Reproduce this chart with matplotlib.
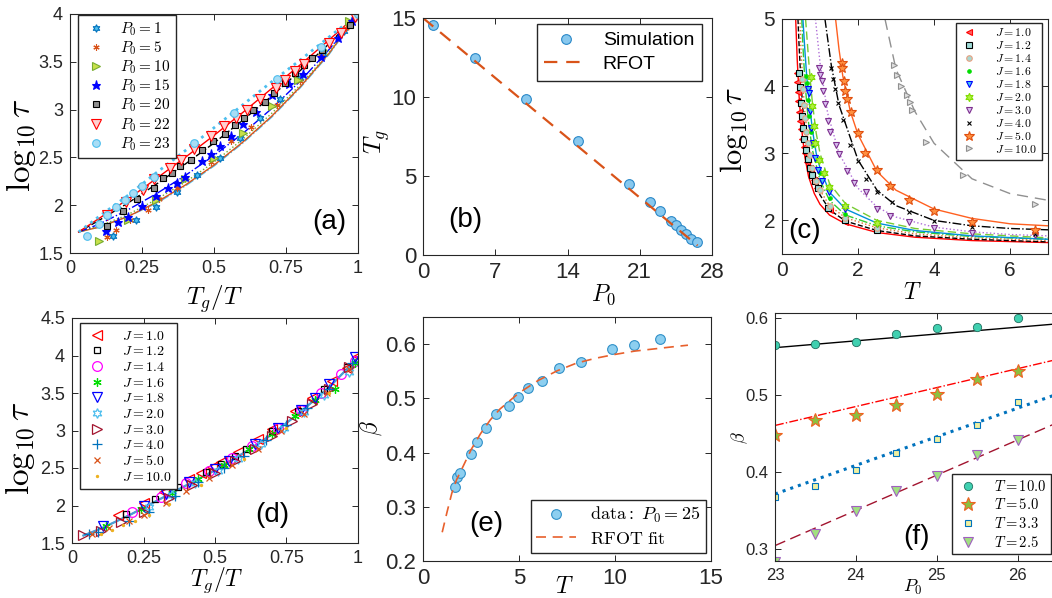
import matplotlib.pyplot as plt
import numpy as np

plt.rcParams['font.family'] = ['Liberation Sans', 'DejaVu Sans']
plt.rcParams['mathtext.fontset'] = 'cm'
plt.rcParams['axes.linewidth'] = 0.8
plt.rcParams['axes.edgecolor'] = '#262626'
plt.rcParams['xtick.color'] = '#262626'
plt.rcParams['ytick.color'] = '#262626'
plt.rcParams['legend.fancybox'] = False
plt.rcParams['legend.edgecolor'] = '#262626'
plt.rcParams['legend.framealpha'] = 1.0

# ---------------- (a) log10 tau vs Tg/T for several P0 ----------------
a_labels = ['$P_0 = 1$', '$P_0 = 5$', '$P_0 = 10$', '$P_0 = 15$',
            '$P_0 = 20$', '$P_0 = 22$', '$P_0 = 23$']
a_p1_x = [0.15, 0.23, 0.3, 0.37, 0.44, 0.52, 0.59, 0.66, 0.73, 0.8, 0.88, 0.95, 1.0]
a_p1_y = [1.68, 1.84, 1.98, 2.14, 2.32, 2.49, 2.7, 2.91, 3.11, 3.33, 3.58, 3.82, 3.97]
a_p5_x = [0.13, 0.16, 0.21, 0.27, 0.31, 0.37, 0.49, 0.56, 0.63, 0.72, 0.8, 0.87, 0.96]
a_p5_y = [1.67, 1.74, 1.84, 1.95, 2.06, 2.18, 2.45, 2.67, 2.82, 3.05, 3.3, 3.56, 3.85]
a_p10_x = [0.1, 0.2, 0.3, 0.4, 0.5, 0.6, 0.7, 0.79, 0.88, 0.97]
a_p10_y = [1.63, 1.84, 2.05, 2.27, 2.49, 2.76, 3.04, 3.31, 3.62, 3.93]
a_p15_x = [0.125, 0.165, 0.2, 0.25, 0.3, 0.34, 0.37, 0.4, 0.46, 0.49, 0.52, 0.56,
           0.6, 0.645, 0.7, 0.76, 0.81, 0.87, 0.93, 0.98]
a_p15_y = [1.73, 1.82, 1.88, 1.99, 2.1, 2.18, 2.23, 2.3, 2.46, 2.54, 2.62, 2.72,
           2.85, 2.98, 3.15, 3.27, 3.37, 3.55, 3.75, 3.93]
a_p20_x = [0.127, 0.185, 0.234, 0.29, 0.324, 0.353, 0.382, 0.419, 0.458, 0.498, 0.538,
           0.574, 0.603, 0.635, 0.676, 0.707, 0.747, 0.782, 0.811, 0.842, 0.875, 0.973]
a_p20_y = [1.78, 1.94, 2.06, 2.18, 2.28, 2.34, 2.41, 2.47, 2.58, 2.67, 2.75,
           2.84, 2.91, 3.0, 3.08, 3.17, 3.28, 3.38, 3.47, 3.54, 3.62, 3.89]
a_p22_x = [0.13, 0.195, 0.255, 0.29, 0.348, 0.386, 0.432, 0.49, 0.535, 0.577, 0.614,
           0.658, 0.716, 0.747, 0.782, 0.813, 0.9, 0.94, 0.99]
a_p22_y = [1.9, 2.03, 2.16, 2.27, 2.39, 2.47, 2.59, 2.72, 2.83, 2.91, 3.0,
           3.11, 3.23, 3.31, 3.4, 3.48, 3.7, 3.8, 3.97]
a_p23_x = [0.06, 0.1, 0.13, 0.16, 0.19, 0.22, 0.25, 0.29, 0.43, 0.57, 0.72, 0.87, 1.0]
a_p23_y = [1.68, 1.8, 1.9, 1.98, 2.05, 2.13, 2.2, 2.3, 2.65, 2.96, 3.32, 3.66, 4.0]

a_fit_x = [0.03, 0.1, 0.2, 0.3, 0.4, 0.5, 0.6, 0.7, 0.8, 0.9, 1.0]
a_fit_p1 = [1.72, 1.77, 1.88, 2.02, 2.2, 2.41, 2.65, 2.92, 3.23, 3.58, 4.0]
a_fit_p5 = [1.72, 1.77, 1.88, 2.03, 2.21, 2.42, 2.66, 2.93, 3.24, 3.59, 4.0]
a_fit_p10 = [1.72, 1.78, 1.9, 2.06, 2.24, 2.45, 2.69, 2.96, 3.26, 3.6, 4.0]
a_fit_p15 = [1.72, 1.8, 1.95, 2.12, 2.31, 2.52, 2.75, 3.01, 3.3, 3.63, 4.0]
a_fit_p20 = [1.72, 1.84, 2.02, 2.22, 2.43, 2.65, 2.89, 3.14, 3.41, 3.69, 4.0]
a_fit_p22 = [1.72, 1.86, 2.06, 2.28, 2.5, 2.73, 2.97, 3.22, 3.47, 3.73, 4.0]
a_fit_p23 = [1.72, 1.88, 2.1, 2.34, 2.57, 2.81, 3.05, 3.29, 3.52, 3.76, 4.0]

# ---------------- (b) Tg vs P0 ----------------
b_p0 = [1, 5, 10, 15, 20, 22, 23, 24, 24.5, 25, 25.5, 26, 26.5]
b_tg = [14.56, 12.5, 9.85, 7.2, 4.5, 3.37, 2.8, 2.15, 1.9, 1.58, 1.3, 1.0, 0.85]
b_rfot_p0 = [0, 26.6]
b_rfot_tg = [15.0, 0.6]
b_xticks = [0, 7, 14, 21, 28]

# ---------------- (c) log10 tau vs T for several J ----------------
c_labels = ['$J = 1.0$', '$J = 1.2$', '$J = 1.4$', '$J = 1.6$', '$J = 1.8$',
            '$J = 2.0$', '$J = 3.0$', '$J = 4.0$', '$J = 5.0$', '$J = 10.0$']
c_j10_T = [0.39, 0.39, 0.41, 0.42, 0.44, 0.47, 0.5, 0.53, 0.57, 0.61, 0.66, 0.75, 0.83, 0.92, 1.25, 1.67]
c_j10_L = [4.19, 4.06, 3.92, 3.78, 3.62, 3.48, 3.36, 3.22, 3.1, 3.0, 2.87, 2.72, 2.6, 2.48, 2.15, 1.98]
c_j12_T = [0.46, 0.47, 0.49, 0.52, 0.55, 0.58, 0.63, 0.68, 0.74, 0.8, 0.87, 0.96, 1.22, 1.67, 2.5]
c_j12_L = [4.19, 3.98, 3.75, 3.56, 3.38, 3.22, 3.05, 2.92, 2.78, 2.68, 2.58, 2.48, 2.19, 2.0, 1.86]
c_j14_T = [0.52, 0.54, 0.57, 0.6, 0.64, 0.68, 0.73, 0.8, 0.9, 1.0, 1.25, 1.67, 2.5]
c_j14_L = [4.1, 3.95, 3.72, 3.52, 3.32, 3.15, 2.98, 2.78, 2.58, 2.45, 2.22, 2.04, 1.89]
c_j16_T = [0.63, 0.65, 0.68, 0.72, 0.77, 0.82, 0.9, 1.0, 1.25, 1.67, 2.5]
c_j16_L = [4.15, 4.05, 3.8, 3.55, 3.32, 3.12, 2.9, 2.7, 2.33, 2.1, 1.94]
c_j18_T = [0.68, 0.7, 0.73, 0.77, 0.82, 0.88, 0.95, 1.05, 1.23, 1.67, 2.5]
c_j18_L = [3.96, 3.9, 3.63, 3.38, 3.15, 2.93, 2.75, 2.58, 2.43, 2.17, 1.95]
c_j20_T = [0.75, 0.79, 0.83, 0.88, 0.97, 1.1, 1.23, 1.67, 2.5]
c_j20_L = [4.13, 3.7, 3.4, 3.15, 2.9, 2.7, 2.5, 2.22, 1.96]
c_j30_T = [0.98, 1.01, 1.04, 1.08, 1.13, 1.22, 1.27, 1.43, 1.49, 1.71, 1.89, 2.22, 2.5, 2.85, 3.33, 4.0, 5.0, 6.67]
c_j30_L = [4.27, 4.17, 4.07, 3.93, 3.73, 3.48, 3.31, 3.13, 2.99, 2.74, 2.56, 2.42, 2.17, 2.06, 1.97, 1.89, 1.82, 1.78]
c_j40_T = [1.3, 1.35, 1.4, 1.48, 1.6, 1.8, 2.0, 2.2, 2.5, 2.9, 3.33, 4.0, 5.0, 6.67]
c_j40_L = [4.27, 4.1, 3.95, 3.75, 3.5, 3.12, 2.88, 2.62, 2.42, 2.27, 2.12, 1.99, 1.9, 1.8]
c_j50_T = [1.57, 1.57, 1.63, 1.67, 1.72, 1.82, 2.0, 2.19, 2.5, 2.85, 3.33, 4.0, 5.0, 6.67]
c_j50_L = [4.35, 4.27, 4.08, 3.93, 3.81, 3.61, 3.3, 3.01, 2.75, 2.51, 2.31, 2.14, 1.97, 1.85]
c_j100_T = [2.96, 3.02, 3.13, 3.28, 3.37, 3.43, 3.78, 4.77, 6.66]
c_j100_L = [4.32, 4.17, 4.0, 3.87, 3.77, 3.64, 3.17, 2.68, 2.25]

c_fit_j10_T = [0.36, 0.4, 0.45, 0.5, 0.6, 0.7, 0.85, 1.0, 1.25, 1.67, 2.5, 3.5, 5, 7]
c_fit_j10_L = [5, 4.4, 3.85, 3.45, 2.95, 2.65, 2.4, 2.24, 2.08, 1.95, 1.82, 1.75, 1.7, 1.67]
c_fit_j12_T = [0.42, 0.45, 0.5, 0.55, 0.6, 0.7, 0.8, 1.0, 1.25, 1.67, 2.5, 3.5, 5, 7]
c_fit_j12_L = [5, 4.6, 4.05, 3.65, 3.35, 2.95, 2.7, 2.38, 2.16, 1.99, 1.85, 1.77, 1.72, 1.68]
c_fit_j14_T = [0.47, 0.5, 0.55, 0.6, 0.7, 0.8, 1.0, 1.25, 1.67, 2.5, 3.5, 5, 7]
c_fit_j14_L = [5, 4.55, 4.0, 3.62, 3.1, 2.8, 2.45, 2.22, 2.04, 1.89, 1.8, 1.74, 1.7]
c_fit_j16_T = [0.52, 0.55, 0.6, 0.65, 0.7, 0.8, 1.0, 1.25, 1.67, 2.5, 3.5, 5, 7]
c_fit_j16_L = [5, 4.6, 4.1, 3.75, 3.45, 3.05, 2.6, 2.3, 2.08, 1.92, 1.83, 1.76, 1.72]
c_fit_j18_T = [0.55, 0.6, 0.65, 0.7, 0.8, 0.9, 1.0, 1.25, 1.67, 2.5, 3.5, 5, 7]
c_fit_j18_L = [5, 4.55, 4.15, 3.85, 3.35, 3.0, 2.78, 2.42, 2.17, 1.96, 1.85, 1.77, 1.72]
c_fit_j20_T = [0.62, 0.7, 0.75, 0.8, 0.9, 1.0, 1.25, 1.67, 2.5, 3.5, 5, 7]
c_fit_j20_L = [5, 4.4, 4.05, 3.75, 3.3, 3.0, 2.55, 2.25, 2.0, 1.88, 1.8, 1.74]
c_fit_j30_T = [0.88, 1.0, 1.2, 1.5, 2.0, 2.5, 3.0, 4.0, 5.0, 6.0, 7.0]
c_fit_j30_L = [5, 4.35, 3.6, 3.0, 2.48, 2.2, 2.05, 1.9, 1.83, 1.79, 1.77]
c_fit_j40_T = [1.13, 1.3, 1.5, 2.0, 2.5, 3.0, 4.0, 5.0, 6.0, 7.0]
c_fit_j40_L = [5, 4.3, 3.72, 2.9, 2.45, 2.22, 2.0, 1.92, 1.88, 1.86]
c_fit_j50_T = [1.41, 1.5, 1.6, 1.8, 2.0, 2.5, 3.0, 4.0, 5.0, 6.0, 7.0]
c_fit_j50_L = [5, 4.55, 4.15, 3.62, 3.28, 2.73, 2.45, 2.17, 2.03, 1.95, 1.92]
c_fit_j100_T = [2.71, 3.0, 3.5, 4.0, 5.0, 6.0, 7.0]
c_fit_j100_L = [5, 4.25, 3.62, 3.15, 2.62, 2.4, 2.3]

# ---------------- (d) collapse vs Tg/T ----------------
d_labels = c_labels
d_j10_x = [0.16, 0.25, 0.32, 0.41, 0.45, 0.49, 0.52, 0.58, 0.65, 0.7, 0.78, 0.84, 0.91, 0.96, 1.0]
d_j10_y = [1.87, 2.04, 2.18, 2.36, 2.44, 2.52, 2.58, 2.72, 2.89, 3.02, 3.26, 3.43, 3.66, 3.84, 3.99]
d_j12_x = [0.19, 0.29, 0.37, 0.47, 0.52, 0.57, 0.61, 0.7, 0.79, 0.88, 0.96]
d_j12_y = [1.89, 2.09, 2.25, 2.45, 2.56, 2.66, 2.76, 2.99, 3.26, 3.55, 3.85]
d_j14_x = [0.21, 0.31, 0.4, 0.48, 0.56, 0.63, 0.72, 0.8, 0.87, 0.94, 0.99]
d_j14_y = [1.92, 2.12, 2.3, 2.46, 2.63, 2.8, 3.04, 3.28, 3.5, 3.75, 3.93]
d_j16_x = [0.12, 0.24, 0.35, 0.44, 0.53, 0.62, 0.7, 0.78, 0.85, 0.92, 0.99]
d_j16_y = [1.73, 1.95, 2.17, 2.35, 2.54, 2.75, 2.95, 3.19, 3.41, 3.55, 3.9]
d_j18_x = [0.11, 0.25, 0.33, 0.41, 0.5, 0.55, 0.64, 0.72, 0.8, 0.85, 0.9, 0.99]
d_j18_y = [1.73, 1.99, 2.15, 2.31, 2.49, 2.6, 2.82, 3.03, 3.27, 3.43, 3.62, 3.98]
d_j20_x = [0.27, 0.35, 0.43, 0.51, 0.58, 0.66, 0.74, 0.81, 0.88, 0.97]
d_j20_y = [1.98, 2.14, 2.3, 2.46, 2.62, 2.82, 3.04, 3.25, 3.48, 3.78]
d_j30_x = [0.04, 0.1, 0.17, 0.25, 0.34, 0.42, 0.5, 0.57, 0.64, 0.7, 0.77, 0.84, 0.9, 0.97]
d_j30_y = [1.61, 1.66, 1.78, 1.92, 2.1, 2.27, 2.44, 2.59, 2.76, 2.93, 3.13, 3.36, 3.56, 3.85]
d_j40_x = [0.06, 0.09, 0.2, 0.27, 0.36, 0.44, 0.53, 0.6, 0.68, 0.75, 0.82, 0.9, 0.98]
d_j40_y = [1.62, 1.65, 1.8, 1.92, 2.13, 2.31, 2.5, 2.66, 2.87, 3.07, 3.3, 3.56, 3.9]
d_j50_x = [0.07, 0.13, 0.2, 0.25, 0.33, 0.4, 0.48, 0.56, 0.65, 0.73, 0.81, 0.89, 0.97]
d_j50_y = [1.62, 1.7, 1.79, 1.87, 2.04, 2.19, 2.37, 2.54, 2.76, 2.99, 3.22, 3.5, 3.82]
d_j100_x = [0.1, 0.14, 0.18, 0.22, 0.27, 0.34, 0.45, 0.6, 0.75, 0.9]
d_j100_y = [1.62, 1.68, 1.74, 1.79, 1.87, 2.02, 2.28, 2.62, 3.03, 3.5]
d_fit_x = [0.04, 0.1, 0.2, 0.3, 0.4, 0.5, 0.6, 0.7, 0.8, 0.9, 1.0]
d_fit_y = [1.6, 1.69, 1.87, 2.07, 2.27, 2.47, 2.7, 2.95, 3.25, 3.58, 3.97]

# ---------------- (e) beta vs T at P0 = 25 ----------------
e_T = [1.66, 1.76, 1.91, 2.48, 2.82, 3.28, 3.79, 4.5, 4.96, 5.49, 6.19, 7.06, 8.24, 9.86, 10.99, 12.34]
e_beta = [0.337, 0.355, 0.362, 0.397, 0.419, 0.445, 0.472, 0.486, 0.503, 0.519, 0.532,
          0.556, 0.567, 0.591, 0.599, 0.609]
e_fit_T = [1.0, 1.25, 1.5, 1.75, 2.0, 2.5, 3.0, 3.5, 4.0, 5.0, 6.0, 7.0, 8.0, 9.0,
           10.0, 11.0, 12.0, 13.0, 13.8]
e_fit_beta = [0.253, 0.29, 0.325, 0.35, 0.368, 0.405, 0.435, 0.46, 0.48, 0.51, 0.533,
              0.551, 0.565, 0.574, 0.581, 0.587, 0.591, 0.595, 0.598]

# ---------------- (f) beta vs P0 at several T ----------------
f_p0 = [23, 23.5, 24, 24.5, 25, 25.5, 26]
f_t10 = [0.565, 0.567, 0.569, 0.580, 0.588, 0.589, 0.600]
f_t5 = [0.448, 0.468, 0.475, 0.487, 0.502, 0.521, 0.532]
f_t33 = [0.368, 0.382, 0.403, 0.425, 0.444, 0.462, 0.492]
f_t25 = [0.284, 0.320, 0.350, 0.376, 0.396, 0.423, 0.442]
f_fit_p0 = [23, 26.5]
f_fit_t10 = [0.562, 0.593]
f_fit_t5 = [0.461, 0.547]
f_fit_t33 = [0.372, 0.502]
f_fit_t25 = [0.305, 0.465]
f_labels = ['$T = 10.0$', '$T = 5.0$', '$T = 3.3$', '$T = 2.5$']

W, H = 1052, 598
fig = plt.figure(figsize=(W / 100, H / 100), dpi=100)


def add_ax(left, top, right, bottom):
    return fig.add_axes([left / W, 1 - bottom / H, (right - left) / W, (bottom - top) / H])


def style(ax, fs):
    ax.tick_params(direction='in', top=True, right=True, labelsize=fs, length=4, width=0.7,
                   pad=5)


star6 = (6, 1, 0)
ast6 = (6, 2, 0)

# ===== (a) =====
ax = add_ax(70, 14, 358, 253)
a_x = [a_p1_x, a_p5_x, a_p10_x, a_p15_x, a_p20_x, a_p22_x, a_p23_x]
a_y = [a_p1_y, a_p5_y, a_p10_y, a_p15_y, a_p20_y, a_p22_y, a_p23_y]
a_fits = [a_fit_p1, a_fit_p5, a_fit_p10, a_fit_p15, a_fit_p20, a_fit_p22, a_fit_p23]
a_mk = [star6, ast6, '>', '*', 's', 'v', 'o']
a_ec = ['#0072BD', '#D95319', '#77AC30', '#0000FF', '#000000', '#FF0000', '#4DBEEE']
a_fc = ['#4DBEEE', '#D95319', '#C8E04A', '#0000FF', '#909090', '#FFD0D0', '#A8DDF5']
a_ms = [5.5, 4.5, 5.5, 6.5, 4, 6.5, 5.5]
a_ls = ['-.', '-', ':', '-.', '--', '-', ':']
a_lc = ['#4DBEEE', '#D95319', '#77AC30', '#0000FF', '#000000', '#FF0000', '#4DBEEE']
a_lw = [1.0, 1.0, 1.0, 1.0, 1.0, 1.0, 2.0]
for i in range(7):
    ax.plot(a_fit_x, a_fits[i], ls=a_ls[i], color=a_lc[i], lw=a_lw[i])
for i in range(7):
    ax.plot(a_x[i], a_y[i], ls='none', marker=a_mk[i], ms=a_ms[i], mec=a_ec[i],
            mfc=a_fc[i], mew=0.8, label=a_labels[i])
ax.set_xlim(0, 1)
ax.set_ylim(1.5, 4)
ax.set_xticks([0, 0.25, 0.5, 0.75, 1])
ax.set_xticklabels(['0', '0.25', '0.5', '0.75', '1'])
ax.set_yticks([1.5, 2, 2.5, 3, 3.5, 4])
ax.set_yticklabels(['1.5', '2', '2.5', '3', '3.5', '4'])
style(ax, 13)
ax.set_xlabel('$T_g/T$', fontsize=18)
ax.xaxis.set_label_coords(0.5, -0.125)
ax.set_ylabel(r'$\log_{10}\tau$', fontsize=24)
ax.yaxis.set_label_coords(-0.111, 0.452)
ax.text(0.9, 0.13, '(a)', transform=ax.transAxes, fontsize=20, ha='center', va='center')
ax.legend(loc='upper left', bbox_to_anchor=(0.028, 0.996), fontsize=11, handlelength=1.6,
          labelspacing=0.1, borderpad=0.35, handletextpad=0.8, borderaxespad=0)

# ===== (b) =====
ax_b = add_ax(423, 18, 712, 255)
ax_b.plot(b_p0, b_tg, 'o', ms=7, mfc='#88C8EE', mec='#2A88C8', mew=0.8, label='Simulation')
ax_b.plot(b_rfot_p0, b_rfot_tg, ls=(0, (6, 4)), color='#D95319', lw=1.6, label='RFOT')
ax_b.set_xlim(0, 28)
ax_b.set_ylim(0, 15)
ax_b.xaxis.set_major_locator(plt.FixedLocator(b_xticks))
ax_b.set_xticklabels([str(v) for v in b_xticks])
ax_b.set_yticks([0, 5, 10, 15])
style(ax_b, 16)
ax_b.set_xlabel('$P_0$', fontsize=17)
ax_b.xaxis.set_label_coords(0.623, -0.118)
ax_b.set_ylabel('$T_g$', fontsize=18)
ax_b.yaxis.set_label_coords(-0.107, 0.477)
ax_b.text(0.145, 0.148, '(b)', transform=ax_b.transAxes, fontsize=20, ha='center', va='center')
ax_b.legend(loc='upper right', bbox_to_anchor=(0.965, 0.975), fontsize=14, handlelength=2.2,
            labelspacing=0.3, borderpad=0.4, borderaxespad=0)

# ===== (c) =====
ax = add_ax(782, 19, 1048, 254)
c_T = [c_j10_T, c_j12_T, c_j14_T, c_j16_T, c_j18_T, c_j20_T, c_j30_T, c_j40_T, c_j50_T, c_j100_T]
c_L = [c_j10_L, c_j12_L, c_j14_L, c_j16_L, c_j18_L, c_j20_L, c_j30_L, c_j40_L, c_j50_L, c_j100_L]
c_fT = [c_fit_j10_T, c_fit_j12_T, c_fit_j14_T, c_fit_j16_T, c_fit_j18_T, c_fit_j20_T,
        c_fit_j30_T, c_fit_j40_T, c_fit_j50_T, c_fit_j100_T]
c_fL = [c_fit_j10_L, c_fit_j12_L, c_fit_j14_L, c_fit_j16_L, c_fit_j18_L, c_fit_j20_L,
        c_fit_j30_L, c_fit_j40_L, c_fit_j50_L, c_fit_j100_L]
c_mk = ['<', 's', 'o', '.', 'v', star6, 'v', 'x', '*', '>']
c_ec = ['#FF0000', '#000000', '#E8A080', '#00DD00', '#0000FF', '#80DD00', '#7E2F8E',
        '#000000', '#E05010', '#909090']
c_fc = ['#FF6060', '#A0DCD8', '#A8D8D0', '#00DD00', '#40C8F0', '#B0F040', '#D8C0F0',
        '#000000', '#FF9040', '#E0E0E0']
c_ms = [4, 4, 4, 5, 5, 6, 5, 3, 7, 4.5]
c_ls = ['-', '--', ':', '-.', '-', (0, (6, 3)), ':', '-.', '-', (0, (8, 5))]
c_lc = ['#FF0000', '#000000', '#E07030', '#33CC33', '#0090D8', '#77CC33', '#B070D8',
        '#000000', '#FF6020', '#909090']
for i in range(10):
    ax.plot(c_fT[i], c_fL[i], ls=c_ls[i], color=c_lc[i], lw=1.0)
for i in range(10):
    ax.plot(c_T[i], c_L[i], ls='none', marker=c_mk[i], ms=c_ms[i], mec=c_ec[i], mfc=c_fc[i],
            mew=0.8, label=c_labels[i])
ax.set_xlim(0, 7)
ax.set_ylim(1.5, 5)
ax.set_xticks([0, 2, 4, 6])
ax.set_yticks([2, 3, 4, 5])
style(ax, 15)
ax.set_xlabel('$T$', fontsize=17)
ax.xaxis.set_label_coords(0.49, -0.119)
ax.set_ylabel(r'$\log_{10}\tau$', fontsize=22)
ax.yaxis.set_label_coords(-0.12, 0.528)
ax.text(0.083, 0.098, '(c)', transform=ax.transAxes, fontsize=20, ha='center', va='center')
ax.legend(loc='upper right', bbox_to_anchor=(0.977, 0.983), fontsize=8.5, handlelength=1.6,
          labelspacing=0.08, borderpad=0.35, handletextpad=1.4, borderaxespad=0)

# ===== (d) =====
ax = add_ax(72, 318, 358, 543)
d_x = [d_j10_x, d_j12_x, d_j14_x, d_j16_x, d_j18_x, d_j20_x, d_j30_x, d_j40_x, d_j50_x, d_j100_x]
d_y = [d_j10_y, d_j12_y, d_j14_y, d_j16_y, d_j18_y, d_j20_y, d_j30_y, d_j40_y, d_j50_y, d_j100_y]
d_mk = ['<', 's', 'o', ast6, 'v', star6, '>', '+', 'x', '.']
d_ec = ['#FF0000', '#000000', '#FF00FF', '#00DD00', '#0000FF', '#4DBEEE', '#A2142F',
        '#0072BD', '#D95319', '#EDB120']
d_ms = [7, 5, 7, 6, 7, 7, 7, 7, 5, 3]
ax.plot(d_fit_x, d_fit_y, color='#7E2F8E', lw=1.0)
ax.plot(d_fit_x, d_fit_y, color='#4A9ED6', lw=1.6)
for i in range(10):
    ax.plot(d_x[i], d_y[i], ls='none', marker=d_mk[i], ms=d_ms[i], mec=d_ec[i],
            mfc='none' if d_mk[i] != '.' else d_ec[i], mew=0.9, label=d_labels[i])
ax.set_xlim(0, 1)
ax.set_ylim(1.5, 4.5)
ax.set_xticks([0, 0.25, 0.5, 0.75, 1])
ax.set_xticklabels(['0', '0.25', '0.5', '0.75', '1'])
ax.set_yticks([1.5, 2, 2.5, 3, 3.5, 4, 4.5])
ax.set_yticklabels(['1.5', '2', '2.5', '3', '3.5', '4', '4.5'])
style(ax, 13)
ax.set_xlabel('$T_g/T$', fontsize=17)
ax.xaxis.set_label_coords(0.507, -0.098)
ax.set_ylabel(r'$\log_{10}\tau$', fontsize=24)
ax.yaxis.set_label_coords(-0.122, 0.422)
ax.text(0.70, 0.124, '(d)', transform=ax.transAxes, fontsize=20, ha='center', va='center')
ax.legend(loc='upper left', bbox_to_anchor=(0.028, 0.978), fontsize=10, handlelength=1.6,
          labelspacing=0.12, borderpad=0.4, handletextpad=1.0, borderaxespad=0)

# ===== (e) =====
ax = add_ax(423, 317, 711, 561)
ax.plot(e_T, e_beta, 'o', ms=7, mfc='#8DCFF0', mec='#3090C8', mew=0.8,
        label=r'$\mathrm{data:}\ P_0 = 25$')
ax.plot(e_fit_T, e_fit_beta, ls=(0, (6, 4)), color='#E8602C', lw=1.2,
        label=r'$\mathrm{RFOT\ fit}$')
ax.set_xlim(0, 15)
ax.set_ylim(0.2, 0.65)
ax.set_xticks([0, 5, 10, 15])
ax.set_yticks([0.2, 0.3, 0.4, 0.5, 0.6])
style(ax, 16)
ax.set_xlabel('$T$', fontsize=17)
ax.xaxis.set_label_coords(0.49, -0.06)
ax.set_ylabel(r'$\beta$', fontsize=17)
ax.yaxis.set_label_coords(-0.135, 0.545)
ax.text(0.219, 0.152, '(e)', transform=ax.transAxes, fontsize=20, ha='center', va='center')
ax.legend(loc='lower right', bbox_to_anchor=(0.983, 0.033), fontsize=13, handlelength=2.2,
          labelspacing=0.3, borderpad=0.3, borderaxespad=0)

# ===== (f) =====
ax = add_ax(775, 313, 1058, 561)
ax.plot(f_fit_p0, f_fit_t10, '-', color='#000000', lw=1.0)
ax.plot(f_fit_p0, f_fit_t5, '-.', color='#FF0000', lw=1.0)
ax.plot(f_fit_p0, f_fit_t33, ':', color='#0072BD', lw=2.2)
ax.plot(f_fit_p0, f_fit_t25, ls=(0, (8, 4)), color='#A2142F', lw=1.0)
ax.plot(f_p0, f_t10, 'o', ms=6, mfc='#40D0B0', mec='#207060', mew=0.6, label=f_labels[0])
ax.plot(f_p0, f_t5, '*', ms=10, mfc='#8CC040', mec='#F06020', mew=0.8, label=f_labels[1])
ax.plot(f_p0, f_t33, 's', ms=5, mfc='#F0F0A0', mec='#0072BD', mew=0.8, label=f_labels[2])
ax.plot(f_p0, f_t25, 'v', ms=7, mfc='#A0E080', mec='#A060C0', mew=0.8, label=f_labels[3])
ax.set_xlim(23, 26.5)
ax.set_ylim(0.285, 0.607)
ax.set_xticks([23, 24, 25, 26])
ax.set_yticks([0.3, 0.4, 0.5, 0.6])
style(ax, 12)
ax.set_xlabel('$P_0$', fontsize=13)
ax.xaxis.set_label_coords(0.488, -0.07)
ax.set_ylabel(r'$\beta$', fontsize=13)
ax.yaxis.set_label_coords(-0.088, 0.496)
ax.text(0.50, 0.097, '(f)', transform=ax.transAxes, fontsize=20, ha='center', va='center')
ax.legend(loc='lower right', bbox_to_anchor=(0.975, 0.028), fontsize=10.5, handlelength=1.6,
          labelspacing=0.25, borderpad=0.3, handletextpad=1.0, borderaxespad=0)

fig.savefig('out.png', dpi=100)
